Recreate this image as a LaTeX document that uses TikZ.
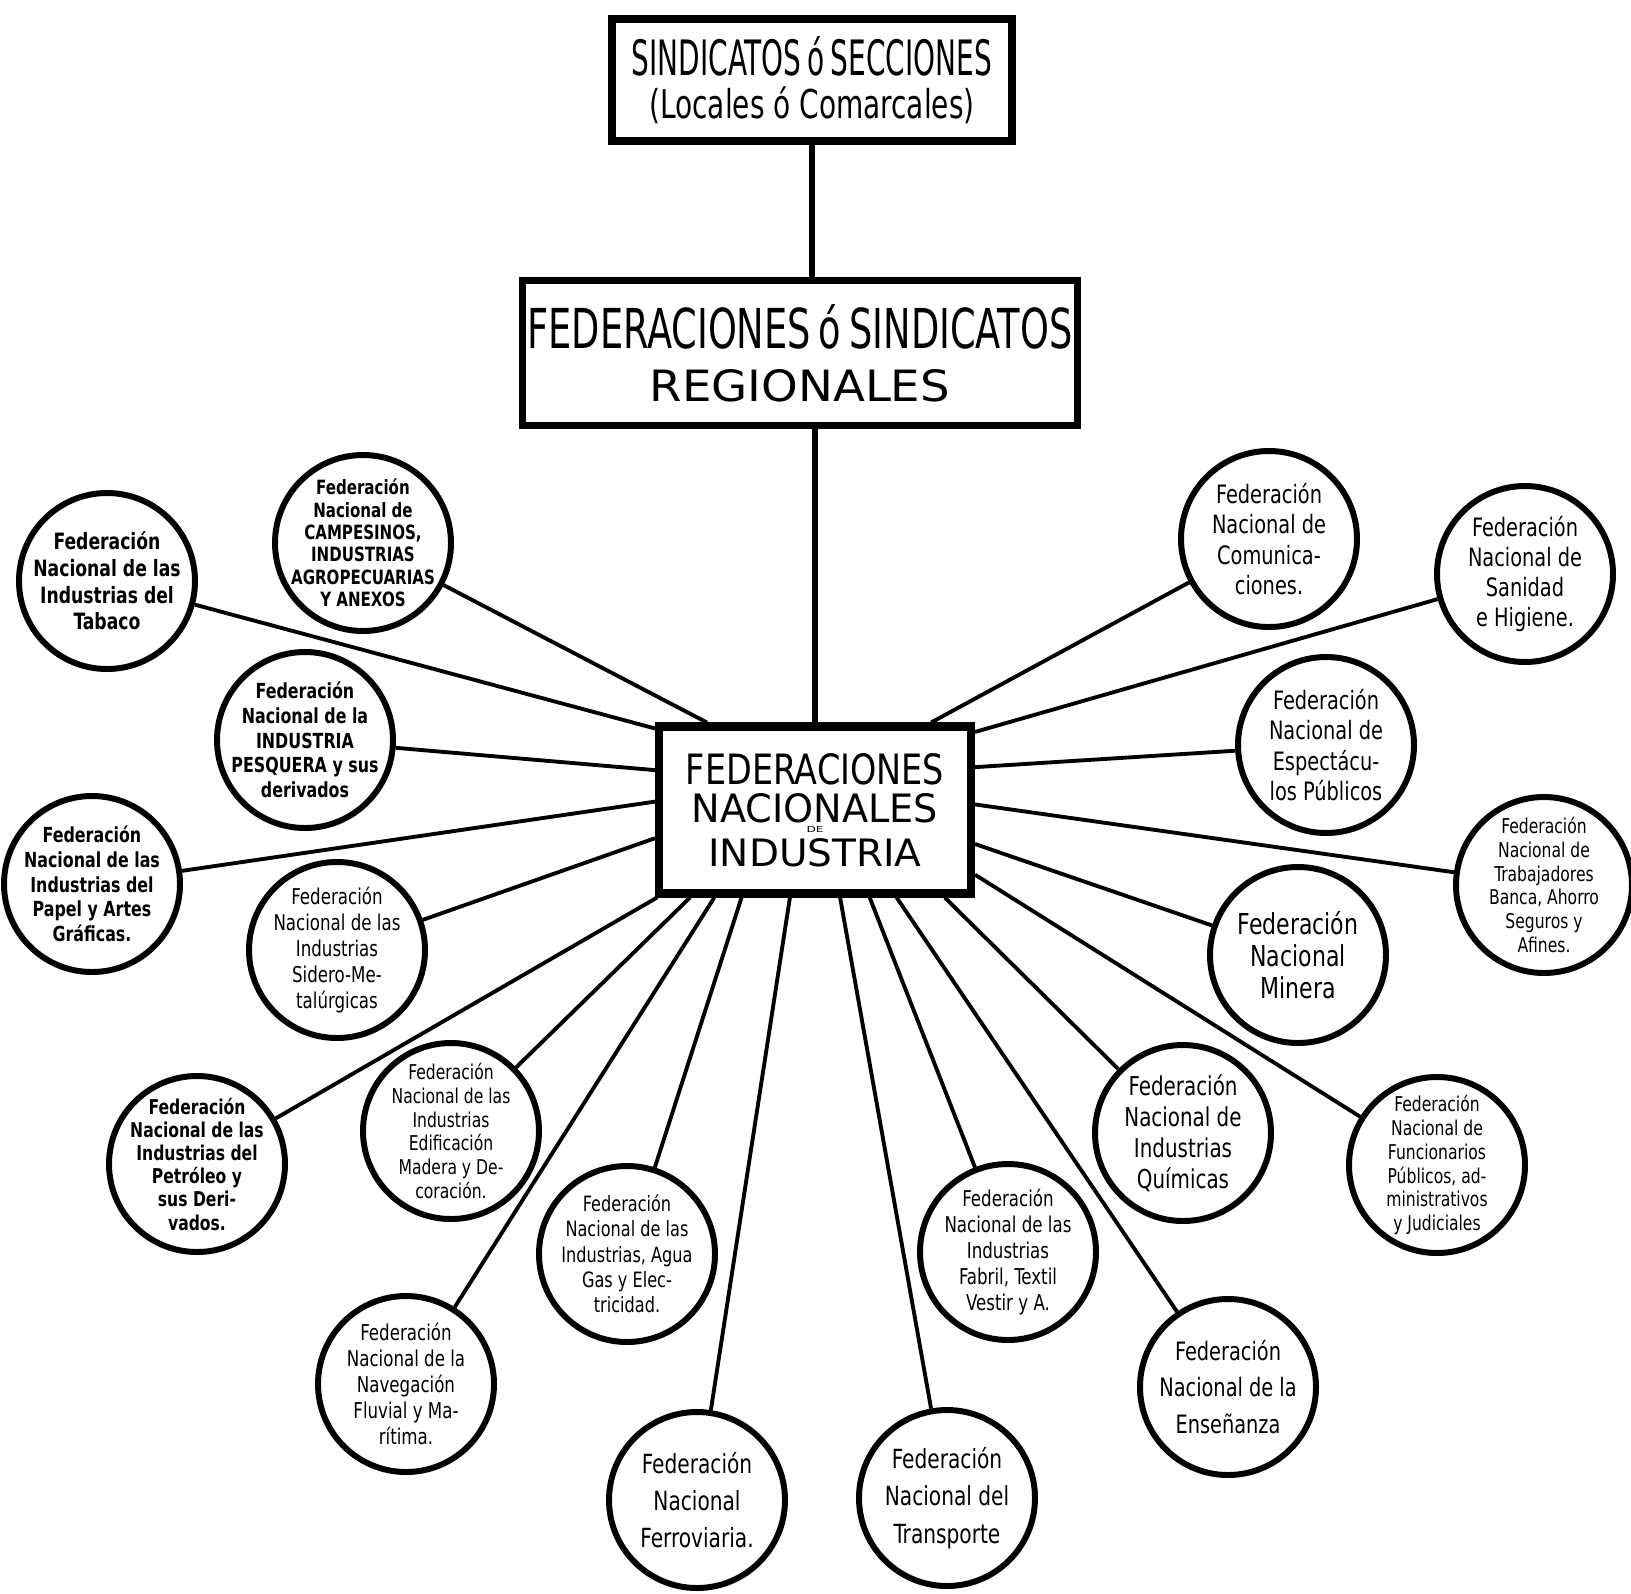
\documentclass[tikz,border=0pt]{standalone}
\usepackage{fontspec}
\setmainfont[FakeStretch=0.85]{DejaVu Sans Condensed}
\usepackage{graphicx}
\usetikzlibrary{calc}

\begin{document}
\begin{tikzpicture}[
		fed/.style={circle, draw, line width=1.7pt, minimum size=1.76cm, inner sep=-1cm, align=center, font=\fontsize{6.6}{8}\selectfont},
		fedb/.style={fed, font=\fontsize{6.4}{7.6}\selectfont\bfseries},
		fedsm/.style={fed, font=\fontsize{5.8}{6.8}\selectfont},
		fedbig/.style={fed, font=\fontsize{7.5}{10.6}\selectfont},
		caja/.style={draw, line width=2pt, inner sep=0pt, align=center, font=\fontsize{2}{2}\selectfont},
		link/.style={line width=1.1pt},
		trunk/.style={line width=1.9pt}
	]
		%%%%% START %%%%%
		\useasboundingbox (0,0) rectangle (16.31,-15.93);
		
		\node[caja, minimum width=4.0cm, minimum height=1.22cm] (sind) at (8.12,-0.80)
			{\resizebox{3.6cm}{0.39cm}{SINDICATOS\,ó\,SECCIONES}\\[0.07cm]\resizebox*{3.25cm}{0.37cm}{(Locales ó Comarcales)}};
		\node[caja, minimum width=5.55cm, minimum height=1.45cm] (reg) at (8.00,-3.53)
			{\resizebox{5.45cm}{0.44cm}{FEDERACIONES\,ó\,SINDICATOS}\\[0.17cm]\resizebox{3.0cm}{0.32cm}{REGIONALES}};
		\node[caja, minimum width=3.13cm, minimum height=1.68cm] (hub) at (8.15,-8.10)
			{\resizebox{2.58cm}{0.31cm}{FEDERACIONES}\\[0.05cm]\resizebox{2.46cm}{0.29cm}{NACIONALES}\\[0.025cm]\resizebox{0.17cm}{0.06cm}{DE}\\[0.025cm]\resizebox{2.13cm}{0.28cm}{INDUSTRIA}};
		\draw[line width=1pt] ($(hub.north west)+(0.065,-0.065)$) rectangle ($(hub.south east)+(-0.065,0.065)$);
		
		\draw[trunk] (sind.south) -- (sind.south |- reg.north);
		\draw[trunk] (hub.north |- reg.south) -- (hub.north);
		
		% left side
		\node[fedb] (tabaco) at (1.07,-5.81) {Federación\\Nacional de las\\Industrias del\\Tabaco};
		\node[fedsm, font=\fontsize{5.6}{6.4}\selectfont\bfseries] (campesinos) at (3.63,-5.43) {Federación\\Nacional de\\CAMPESINOS,\\INDUSTRIAS\\AGROPECUARIAS\\Y ANEXOS};
		\node[fedb, font=\fontsize{5.9}{7}\selectfont\bfseries] (pesquera) at (3.05,-7.40) {Federación\\Nacional de la\\INDUSTRIA\\PESQUERA y sus\\derivados};
		\node[fedb, font=\fontsize{5.9}{7}\selectfont\bfseries] (papel) at (0.92,-8.84) {Federación\\Nacional de las\\Industrias del\\Papel y Artes\\Gráficas.};
		\node[fed, font=\fontsize{6.2}{7.4}\selectfont] (sidero) at (3.37,-9.50) {Federación\\Nacional de las\\Industrias\\Sidero-Me-\\talúrgicas};
		\node[fedsm, font=\fontsize{5.8}{6.6}\selectfont\bfseries] (petroleo) at (1.97,-11.64) {Federación\\Nacional de las\\Industrias del\\Petróleo y\\sus Deri-\\vados.};
		\node[fedsm] (edificacion) at (4.51,-11.31) {Federación\\Nacional de las\\Industrias\\Edificación\\Madera y De-\\coración.};
		\node[fed, font=\fontsize{6.2}{7.4}\selectfont] (navegacion) at (4.06,-13.84) {Federación\\Nacional de la\\Navegación\\Fluvial y Ma-\\rítima.};
		\node[fed, font=\fontsize{6}{7.2}\selectfont] (agua) at (6.27,-12.54) {Federación\\Nacional de las\\Industrias, Agua\\Gas y Elec-\\tricidad.};
		\node[fedbig] (ferroviaria) at (6.97,-15.00) {Federación\\Nacional\\Ferroviaria.};
		
		% right side
		\node[fedbig] (transporte) at (9.47,-14.98) {Federación\\Nacional del\\Transporte};
		\node[fed, font=\fontsize{6.2}{7.4}\selectfont] (fabril) at (10.08,-12.52) {Federación\\Nacional de las\\Industrias\\Fabril, Textil\\Vestir y A.};
		\node[fedbig, font=\fontsize{7.2}{10.3}\selectfont] (ensenanza) at (12.28,-13.87) {Federación\\Nacional de la\\Enseñanza};
		\node[fed, font=\fontsize{7.4}{8.8}\selectfont] (quimicas) at (11.83,-11.33) {Federación\\Nacional de\\Industrias\\Químicas};
		\node[fedsm] (funcionarios) at (14.37,-11.65) {Federación\\Nacional de\\Funcionarios\\Públicos, ad-\\ministrativos\\y Judiciales};
		\node[fedbig, font=\fontsize{8.2}{9.2}\selectfont] (minera) at (12.98,-9.55) {Federación\\Nacional\\Minera};
		\node[fedsm] (trabajadores) at (15.44,-8.85) {Federación\\Nacional de\\Trabajadores\\Banca, Ahorro\\Seguros y\\Afines.};
		\node[fed, font=\fontsize{7.2}{8.6}\selectfont] (espectaculos) at (13.26,-7.45) {Federación\\Nacional de\\Espectácu-\\los Públicos};
		\node[fed, font=\fontsize{7.2}{8.6}\selectfont] (sanidad) at (15.25,-5.74) {Federación\\Nacional de\\Sanidad\\e Higiene.};
		\node[fed, font=\fontsize{7.2}{8.6}\selectfont] (comunicaciones) at (12.69,-5.39) {Federación\\Nacional de\\Comunica-\\ciones.};
		
		\foreach \f/\a in {tabaco/153, campesinos/141, pesquera/166, papel/177, sidero/190,
			petroleo/209, edificacion/215, navegacion/221, agua/230, ferroviaria/254,
			transporte/286, fabril/302, ensenanza/313, quimicas/326, funcionarios/338,
			minera/348, trabajadores/2, espectaculos/15, sanidad/26, comunicaciones/37}
			\draw[link] (hub.\a) -- (\f);
		
		%%%%% END %%%%%
	\end{tikzpicture}
\end{document}
